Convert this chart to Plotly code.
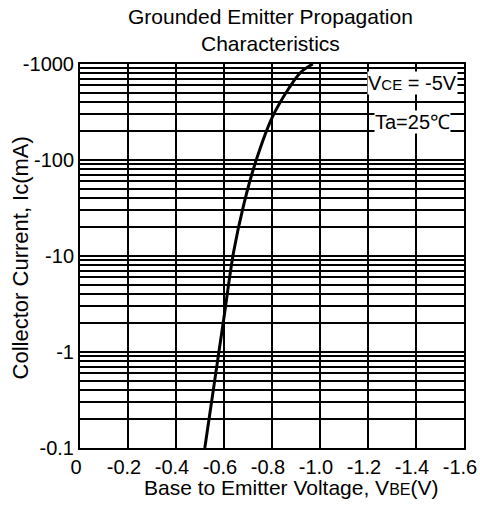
import plotly.graph_objects as go

# Data
vbe = [-0.52, -0.56, -0.60, -0.64, -0.683, -0.729, -0.80, -0.871, -0.921, -0.97]
ic_ma = [0.1, 0.48, 2.3, 11, 35, 91, 275, 562, 825, 1000]

x_tick_vals = [0, -0.2, -0.4, -0.6, -0.8, -1.0, -1.2, -1.4, -1.6]
x_tick_text = ["0", "-0.2", "-0.4", "-0.6", "-0.8", "-1.0", "-1.2", "-1.4", "-1.6"]
y_tick_vals = [0.1, 1, 10, 100, 1000]
y_tick_text = ["-0.1", "-1", "-10", "-100", "-1000"]
y_minor_vals = [m * d for d in [0.1, 1, 10, 100] for m in range(2, 10)]

FONT = "Liberation Sans, Arial, sans-serif"

fig = go.Figure()
fig.add_trace(go.Scatter(
    x=vbe, y=ic_ma, mode="lines",
    line=dict(color="black", width=3, shape="spline"),
    showlegend=False, hoverinfo="skip",
))

fig.update_layout(
    width=480, height=507,
    margin=dict(l=80, r=16, t=64, b=59, autoexpand=False),
    paper_bgcolor="white", plot_bgcolor="white",
    font=dict(family=FONT, color="black", size=20),
    xaxis=dict(
        range=[0, -1.6], tickmode="array",
        tickvals=x_tick_vals, ticktext=x_tick_text,
        showgrid=True, gridcolor="black", gridwidth=2,
        showline=True, linecolor="black", linewidth=2, mirror=True,
        ticks="", zeroline=False, automargin=False,
        ticklabeloverflow="allow", ticklabelshift=4,
        tickfont=dict(size=20),
    ),
    yaxis=dict(
        type="log", range=[-1, 3], tickmode="array",
        tickvals=y_tick_vals, ticktext=y_tick_text,
        showgrid=True, gridcolor="black", gridwidth=2,
        minor=dict(tickmode="array", tickvals=y_minor_vals, showgrid=True,
                   gridcolor="black", gridwidth=1.5, ticks=""),
        showline=True, linecolor="black", linewidth=2, mirror=True,
        ticks="", zeroline=False, automargin=False,
        tickfont=dict(size=20),
    ),
    annotations=[
        dict(text="Grounded Emitter Propagation<br>Characteristics",
             xref="paper", yref="paper", x=0.495, y=1.088,
             xanchor="center", yanchor="middle",
             showarrow=False, font=dict(size=21)),
        dict(text="Base to Emitter Voltage, V<span style='font-size:16px'>BE</span>(V)",
             xref="paper", yref="paper", x=0.55, y=-0.104,
             xanchor="center", yanchor="middle",
             showarrow=False, font=dict(size=21)),
        dict(text="Collector Current, Ic(mA)", textangle=-90,
             xref="paper", yref="paper", x=-0.156, y=0.494,
             xanchor="center", yanchor="middle",
             showarrow=False, font=dict(size=22)),
        dict(text="V<span style='font-size:15px'>CE</span> = -5V",
             xref="paper", yref="paper", x=0.865, y=0.95,
             xanchor="center", yanchor="middle",
             showarrow=False, bgcolor="white", font=dict(size=20),
             borderpad=0),
        dict(text="Ta=25℃",
             xref="paper", yref="paper", x=0.865, y=0.849,
             xanchor="center", yanchor="middle",
             showarrow=False, bgcolor="white", font=dict(size=20),
             borderpad=0),
    ],
)

fig.write_html("out.html", config={"displayModeBar": False},
               post_script="document.body.style.margin='0';")
